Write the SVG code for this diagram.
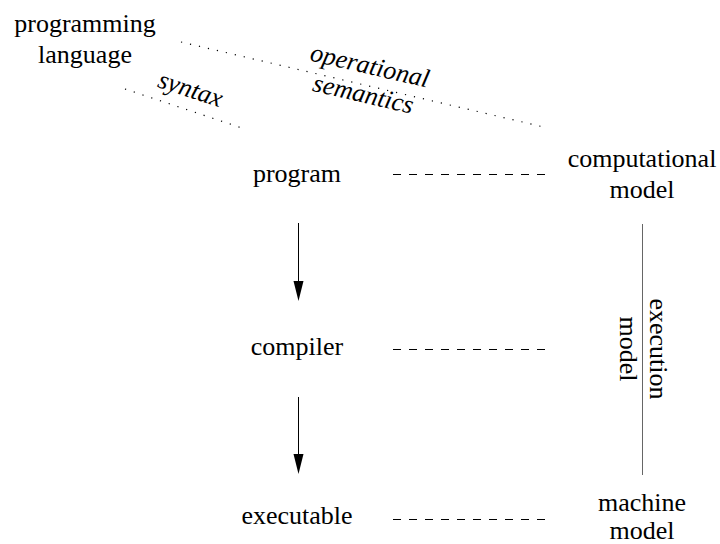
<svg xmlns="http://www.w3.org/2000/svg" width="720" height="544" viewBox="0 0 720 544">
  <style>
    text { font-family: "Liberation Serif", Tinos, "Nimbus Roman", "Times New Roman", "DejaVu Serif", serif; font-size: 26px; fill: #000; }
    .c { text-anchor: middle; }
    .it { font-style: italic; }
    .dash { stroke: #000; stroke-width: 1; stroke-dasharray: 8 8; fill: none; }
    .dots { stroke: #000; stroke-width: 1.2; stroke-dasharray: 1.2 8; fill: none; }
    .arrow { stroke: #000; stroke-width: 1; fill: none; }
    .head { fill: #000; }
    .bar { stroke: #666; stroke-width: 1; fill: none; }
  </style>

  <g id="connectors">
    <!-- dotted relations -->
    <line class="dots" x1="181" y1="42" x2="548" y2="128"/>
    <line class="dots" x1="125" y1="89" x2="242" y2="128"/>
    <!-- dashed correspondences -->
    <line class="dash" x1="393" y1="174.5" x2="549" y2="174.5"/>
    <line class="dash" x1="393" y1="349.5" x2="549" y2="349.5"/>
    <line class="dash" x1="393" y1="519.5" x2="549" y2="519.5"/>
    <!-- flow arrows -->
    <line class="arrow" x1="298.5" y1="223" x2="298.5" y2="290"/>
    <path class="head" d="M293.5,281 L303.5,281 L298.5,301 Z"/>
    <line class="arrow" x1="298.5" y1="397" x2="298.5" y2="463"/>
    <path class="head" d="M293.5,454 L303.5,454 L298.5,474 Z"/>
    <!-- execution model bar -->
    <line class="bar" x1="642.5" y1="224" x2="642.5" y2="475"/>
  </g>

  <g id="programming-language">
    <text class="c" x="85" y="32">programming</text>
    <text class="c" x="85" y="63">language</text>
  </g>
  <g id="syntax">
    <text class="c it" transform="translate(188,97) rotate(18)">syntax</text>
  </g>
  <g id="operational-semantics" transform="translate(368,74) rotate(13)">
    <text class="c it" x="0" y="0">operational</text>
    <text class="c it" x="0" y="29">semantics</text>
  </g>
  <g id="program">
    <text class="c" x="297" y="182">program</text>
  </g>
  <g id="compiler">
    <text class="c" x="297" y="355">compiler</text>
  </g>
  <g id="executable">
    <text class="c" x="297" y="524">executable</text>
  </g>
  <g id="computational-model">
    <text class="c" x="642" y="167">computational</text>
    <text class="c" x="642" y="198">model</text>
  </g>
  <g id="execution-model" transform="translate(650,349) rotate(90)">
    <text class="c" x="0" y="0">execution</text>
    <text class="c" x="0" y="30">model</text>
  </g>
  <g id="machine-model">
    <text class="c" x="642" y="511">machine</text>
    <text class="c" x="642" y="539">model</text>
  </g>
</svg>
